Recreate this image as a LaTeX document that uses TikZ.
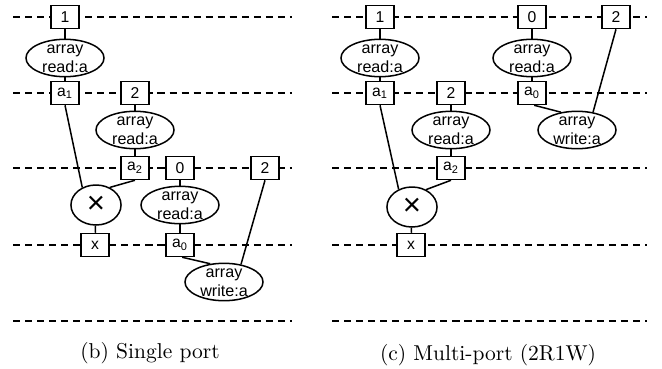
\documentclass[tikz,border=0pt]{standalone}
\usepackage{fontspec}
\newfontfamily\diagfont{Liberation Sans}
\usetikzlibrary{shapes.geometric}

\tikzset{
  stage/.style={draw=black, line width=0.6pt, dash pattern=on 3.3pt off 2.3pt},
  val/.style={draw, line width=0.7pt, fill=white, rectangle, inner sep=0pt,
              minimum width=13.2pt, minimum height=10.7pt,
              font=\diagfont\fontsize{7.3}{8.6}\selectfont},
  op/.style={draw, line width=0.7pt, fill=white, ellipse, inner sep=0pt,
             minimum width=36.3pt, minimum height=17.4pt},
  mulop/.style={draw, line width=0.7pt, fill=white, ellipse, inner sep=0pt,
                minimum width=23.3pt, minimum height=18.6pt,
                font=\diagfont\fontsize{14.5}{14.5}\selectfont},
  optext/.style={inner sep=0pt, align=center, yshift=-0.5pt,
                 font=\diagfont\fontsize{7.5}{8.8}\selectfont},
  wire/.style={line width=0.7pt},
  caption/.style={inner sep=0pt, font=\fontsize{10}{12}\selectfont}
}

\begin{document}
\begin{tikzpicture}[x=0.4651pt, y=-0.4651pt]
  \useasboundingbox (0,0) rectangle (662,368);

  % clock-cycle boundaries
  \foreach \yy in {17,93,168,245,321} {
    \draw[stage] (13,\yy) -- (292,\yy);
    \draw[stage] (332,\yy) -- (647,\yy);
  }

  % ---------------- (b) single port ----------------
  \node[val] (Lb1) at (65,17) {1};
  \node[op] (Lr1) at (65,58) {};
  \node[optext] (Lr1t) at (Lr1) {array\\read:a};
  \node[val] (La1) at (65,93) {a\textsubscript{1}};

  \node[val] (Lb2) at (135,93) {2};
  \node[op] (Lr2) at (135,130) {};
  \node[optext] (Lr2t) at (Lr2) {array\\read:a};
  \node[val] (La2) at (135,168) {a\textsubscript{2}};

  \node[mulop] (Lmul) at (96,205) {×};
  \node[val] (Lx) at (95,245) {x};

  \node[val] (Lb0) at (180,168) {0};
  \node[op] (Lr3) at (180,205) {};
  \node[optext] (Lr3t) at (Lr3) {array\\read:a};
  \node[val] (La0) at (180,245) {a\textsubscript{0}};

  \node[val] (Lb2w) at (265,168) {2};
  \node[op] (Lw) at (224,282) {};
  \node[optext] (Lwt) at (Lw) {array\\write:a};

  \draw[wire] (Lb1) -- (Lr1);
  \draw[wire] (Lr1) -- (La1);
  \draw[wire] (Lb2) -- (Lr2);
  \draw[wire] (Lr2) -- (La2);
  \draw[wire] (La1.south) -- (Lmul.128);
  \draw[wire] (La2.south) -- (Lmul.52);
  \draw[wire] (Lmul) -- (Lx);
  \draw[wire] (Lb0) -- (Lr3);
  \draw[wire] (Lr3) -- (La0);
  \draw[wire] ([xshift=1pt]La0.south) -- (Lw.127);
  \draw[wire] (Lb2w.south) -- (Lw.46);

  \node[caption] (capb) at (150,353) {(b) Single port};

  % ---------------- (c) multi-port (2R1W) ----------------
  \node[val] (Rb1) at (380,17) {1};
  \node[op] (Rr1) at (380,58) {};
  \node[optext] (Rr1t) at (Rr1) {array\\read:a};
  \node[val] (Ra1) at (380,93) {a\textsubscript{1}};

  \node[val] (Rb2) at (451,93) {2};
  \node[op] (Rr2) at (451,130) {};
  \node[optext] (Rr2t) at (Rr2) {array\\read:a};
  \node[val] (Ra2) at (451,168) {a\textsubscript{2}};

  \node[mulop] (Rmul) at (412,207) {×};
  \node[val] (Rx) at (411,245) {x};

  \node[val] (Rb0) at (532,17) {0};
  \node[op] (Rr3) at (532,58) {};
  \node[optext] (Rr3t) at (Rr3) {array\\read:a};
  \node[val] (Ra0) at (532,93) {a\textsubscript{0}};

  \node[val] (Rb2w) at (616,17) {2};
  \node[op] (Rw) at (577,130) {};
  \node[optext] (Rwt) at (Rw) {array\\write:a};

  \draw[wire] (Rb1) -- (Rr1);
  \draw[wire] (Rr1) -- (Ra1);
  \draw[wire] (Rb2) -- (Rr2);
  \draw[wire] (Rr2) -- (Ra2);
  \draw[wire] (Ra1.south) -- (Rmul.127);
  \draw[wire] (Ra2.south) -- (Rmul.51);
  \draw[wire] (Rmul) -- (Rx);
  \draw[wire] (Rb0) -- (Rr3);
  \draw[wire] (Rr3) -- (Ra0);
  \draw[wire] ([xshift=1pt]Ra0.south) -- (Rw.132);
  \draw[wire] (Rb2w.south) -- (Rw.48);

  \node[caption] (capc) at (488,355) {(c) Multi-port (2R1W)};
\end{tikzpicture}
\end{document}
